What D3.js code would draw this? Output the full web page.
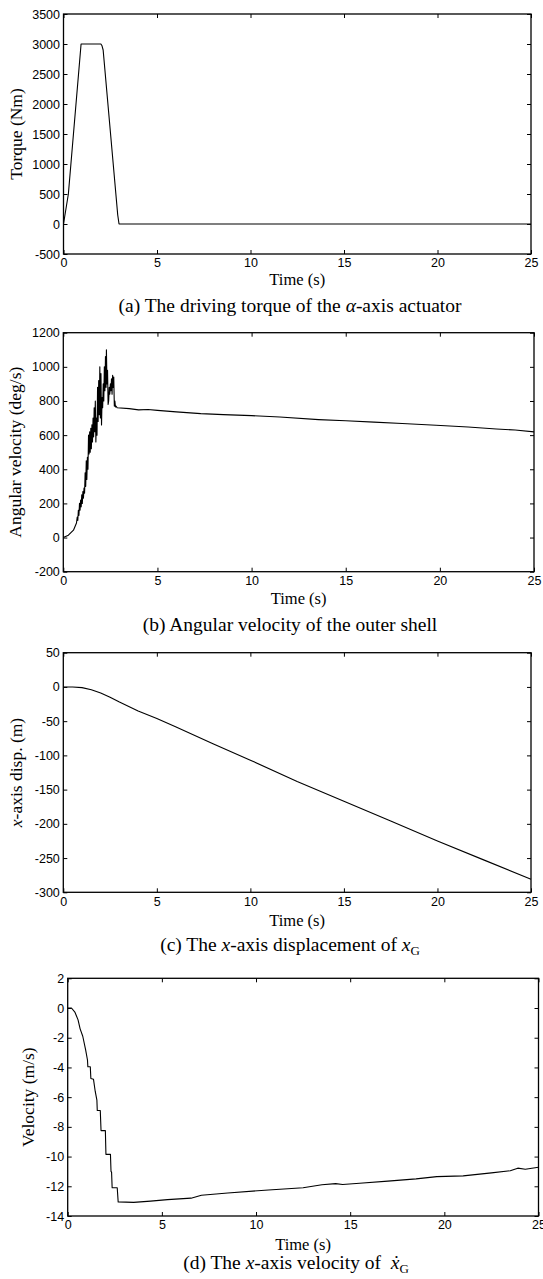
<!DOCTYPE html>
<html>
<head>
<meta charset="utf-8">
<script src="https://cdn.jsdelivr.net/npm/d3@7"></script>
<style>
  body { margin: 0; background: #fff; }
  .tick text { font-family: "Liberation Sans", Arial, sans-serif; font-size: 12.5px; fill: #000; }
  .serif { font-family: "Liberation Serif", "Times New Roman", serif; fill: #000; }
</style>
</head>
<body>
<svg id="chart" width="543" height="1279"></svg>
<script>
// ---- data ----
var timeTicks = [0, 5, 10, 15, 20, 25]

// (a) driving torque of the alpha-axis actuator
var torqueTime   = [0, 0.26, 0.94, 2.0, 2.06, 2.12, 2.9, 2.97, 25]
var torqueValues = [0, 500, 3000, 3000, 2970, 2900, 150, 0, 0]
var torqueTicks  = [-500, 0, 500, 1000, 1500, 2000, 2500, 3000, 3500]

// (b) angular velocity of the outer shell (deg/s)
var angVelTime = [0, 0.27, 0.54, 0.70, 0.74, 0.77, 0.80, 0.83, 0.86, 0.89, 0.92, 0.95, 0.98,
  1.01, 1.04, 1.07, 1.10, 1.13, 1.16, 1.19, 1.22, 1.25, 1.28, 1.31, 1.34, 1.37, 1.40, 1.43,
  1.46, 1.49, 1.52, 1.55, 1.58, 1.61, 1.64, 1.67, 1.70, 1.73, 1.76, 1.79, 1.82, 1.85, 1.88,
  1.91, 1.94, 1.97, 2.00, 2.03, 2.06, 2.09, 2.12, 2.15, 2.18, 2.21, 2.24, 2.27, 2.29, 2.32,
  2.35, 2.38, 2.41, 2.44, 2.47, 2.50, 2.53, 2.56, 2.59, 2.62, 2.65, 2.68, 2.71, 2.74, 2.77,
  2.80, 2.86, 3.5, 4.0, 4.5, 5.0, 6.0, 7.3, 8.5, 10, 11.5, 13.56, 15, 16.5, 18, 19.8, 21.5,
  23, 24, 25]
var angVelValues = [0, 14, 43, 85, 120, 100, 160, 130, 200, 160, 220, 180, 250,
  200, 270, 230, 290, 260, 380, 300, 450, 340, 470, 400, 600, 490, 620, 500,
  640, 520, 660, 560, 700, 590, 760, 620, 800, 560, 700, 600, 880, 680, 920,
  720, 1000, 700, 960, 660, 820, 760, 900, 800, 1000, 860, 1060, 880, 1100, 900,
  980, 780, 800, 880, 840, 900, 860, 930, 840, 950, 880, 940, 770, 800, 765,
  770, 760, 755, 748, 750, 745, 736, 726, 720, 714, 706, 691, 684, 676, 668, 658, 648,
  636, 630, 619]
var angVelTicks = [-200, 0, 200, 400, 600, 800, 1000, 1200]

// (c) x-axis displacement of x_G (m)
var dispTime   = [0, 0.5, 1, 1.5, 2, 2.5, 3, 4, 5, 6, 8, 10, 12.5, 15, 17.5, 20, 22.5, 25]
var dispValues = [0, 0, -1, -4, -9, -15, -22, -35, -46, -58, -83, -107, -138, -167, -196, -225, -253, -281]
var dispTicks  = [-300, -250, -200, -150, -100, -50, 0, 50]

// (d) x-axis velocity (m/s)
var velTime = [0, 0.2, 0.39, 0.55, 0.66, 0.8, 0.95, 1.05, 1.07, 1.2, 1.23, 1.37, 1.46, 1.55,
  1.57, 1.73, 1.77, 2.0, 2.03, 2.27, 2.3, 2.33, 2.36, 2.63, 2.68, 3.5, 4.4, 5.3, 6.55, 7.1,
  8.5, 10.66, 12.5, 13.5, 14.23, 14.6, 15.5, 17, 18.5, 19.6, 21, 22.5, 23.5, 23.9, 24.3, 25]
var velValues = [0, 0, -0.3, -0.8, -1.4, -1.9, -2.8, -3.5, -3.95, -3.95, -4.75, -4.8, -5.6, -6.2,
  -6.9, -6.9, -8.25, -8.25, -9.85, -9.85, -11.0, -11.05, -12.1, -12.1, -13.05, -13.08, -13.0, -12.9, -12.8, -12.6,
  -12.45, -12.25, -12.1, -11.9, -11.82, -11.88, -11.8, -11.65, -11.5, -11.35, -11.3, -11.1, -10.95, -10.78, -10.85, -10.72]
var velTicks = [-14, -12, -10, -8, -6, -4, -2, 0, 2]

// ---- layout ----
var svg = d3.select("#chart")
svg.append("rect").attr("width", 543).attr("height", 1279).attr("fill", "#fff")

var panels = [
  {t: torqueTime, v: torqueValues, ticks: torqueTicks, box: [63.5, 531, 14, 254],
   ylabX: 18, timeY: 285, capY: 312, capX: 290},
  {t: angVelTime, v: angVelValues, ticks: angVelTicks, box: [63.3, 534, 332.7, 571.7],
   ylabX: 17, timeY: 604, capY: 631, capX: 290},
  {t: dispTime, v: dispValues, ticks: dispTicks, box: [63.3, 531, 652.7, 892.3],
   ylabX: 18, timeY: 926, capY: 951, capX: 290},
  {t: velTime, v: velValues, ticks: velTicks, box: [67.7, 538.5, 978.3, 1216],
   ylabX: 30, timeY: 1250, capY: 1269, capX: 296}
]

panels.forEach(function(p, i) {
  var L = p.box[0], R = p.box[1], T = p.box[2], B = p.box[3]
  var x = d3.scaleLinear().domain([0, 25]).range([L, R])
  var y = d3.scaleLinear().domain(d3.extent(p.ticks)).range([B, T])
  var g = svg.append("g")

  // data line
  var pts = p.t.map(function(tt, k) { return [tt, p.v[k]] })
  g.append("path")
    .datum(pts)
    .attr("fill", "none")
    .attr("stroke", "#000")
    .attr("stroke-width", 1.1)
    .attr("stroke-linejoin", "round")
    .attr("d", d3.line().x(function(d) { return x(d[0]) }).y(function(d) { return y(d[1]) }))

  // axes, MATLAB style: ticks inside on all four sides
  var left = g.append("g").attr("transform", "translate(" + L + ",0)")
    .call(d3.axisLeft(y).tickValues(p.ticks).tickSize(-4).tickPadding(3.5).tickFormat(d3.format("d")))
  var bottom = g.append("g").attr("transform", "translate(0," + B + ")")
    .call(d3.axisBottom(x).tickValues(timeTicks).tickSize(-4).tickPadding(4.5).tickFormat(d3.format("d")))
  g.append("g").attr("transform", "translate(" + R + ",0)")
    .call(d3.axisRight(y).tickValues(p.ticks).tickSize(-4).tickFormat(""))
  g.append("g").attr("transform", "translate(0," + T + ")")
    .call(d3.axisTop(x).tickValues(timeTicks).tickSize(-4).tickFormat(""))
  g.selectAll(".domain").remove()
  g.selectAll(".tick line").attr("stroke", "#000").attr("stroke-width", 1)
  left.selectAll("text").text(function(d) { return d < 0 ? "-" + Math.abs(d) : d })

  g.append("rect")
    .attr("x", L).attr("y", T).attr("width", R - L).attr("height", B - T)
    .attr("fill", "none").attr("stroke", "#000").attr("stroke-width", 1.3)

  // x label
  g.append("text").attr("class", "serif")
    .attr("x", (L + R) / 2).attr("y", p.timeY)
    .attr("text-anchor", "middle").attr("font-size", 16.5)
    .text("Time (s)")

  // y label
  var yl = g.append("text").attr("class", "serif")
    .attr("transform", "translate(" + p.ylabX + "," + ((T + B) / 2) + ") rotate(-90)")
    .attr("text-anchor", "middle").attr("dominant-baseline", "middle").attr("font-size", 17.5)
  if (i == 0) yl.text("Torque (Nm)")
  if (i == 1) yl.text("Angular velocity (deg/s)")
  if (i == 2) { yl.append("tspan").attr("font-style", "italic").text("x"); yl.append("tspan").text("-axis disp. (m)") }
  if (i == 3) yl.text("Velocity (m/s)")

  // caption
  var cap = g.append("text").attr("class", "serif")
    .attr("x", p.capX).attr("y", p.capY)
    .attr("text-anchor", "middle").attr("font-size", 19.5)
  if (i == 0) {
    cap.append("tspan").text("(a) The driving torque of the ")
    cap.append("tspan").attr("font-style", "italic").text("α")
    cap.append("tspan").text("-axis actuator")
  }
  if (i == 1) cap.text("(b) Angular velocity of the outer shell")
  if (i == 2) {
    cap.append("tspan").text("(c) The ")
    cap.append("tspan").attr("font-style", "italic").text("x")
    cap.append("tspan").text("-axis displacement of ")
    cap.append("tspan").attr("font-style", "italic").text("x")
    cap.append("tspan").attr("font-size", 13).attr("dy", 4).text("G")
  }
  if (i == 3) {
    cap.append("tspan").text("(d) The ")
    cap.append("tspan").attr("font-style", "italic").text("x")
    cap.append("tspan").text("-axis velocity of \u00a0")
    cap.append("tspan").attr("font-style", "italic").text("\u1e8b")
    cap.append("tspan").attr("font-size", 13).attr("dy", 4).text("G")
  }
})
</script>
</body>
</html>
